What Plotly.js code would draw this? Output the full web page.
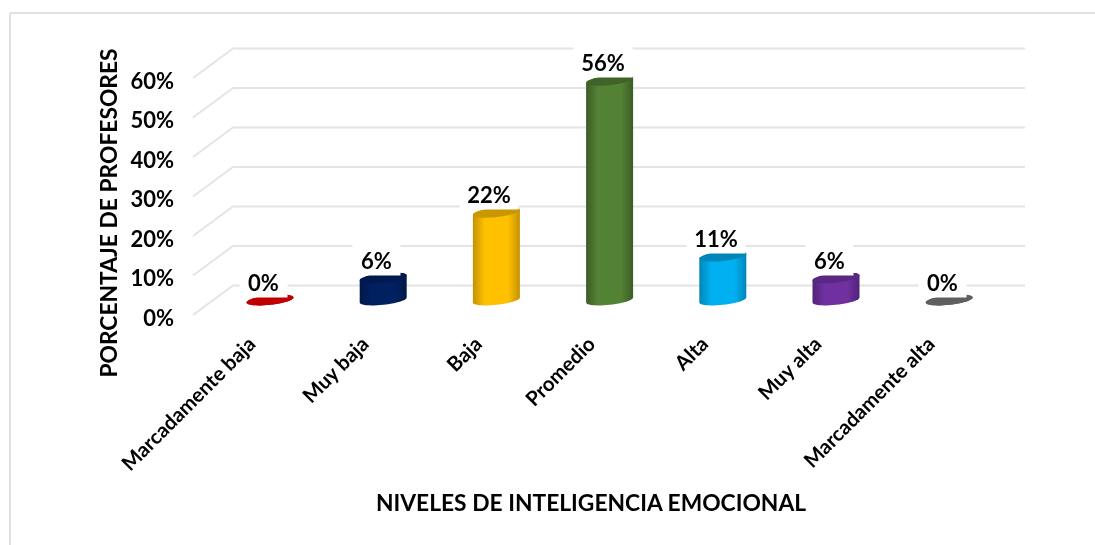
<!DOCTYPE html>
<html><head><meta charset="utf-8">
<script src="https://cdn.plot.ly/plotly-3.0.1.min.js"></script>
<style>html,body{margin:0;padding:0;background:#fff;overflow:hidden}#c{width:1095px;height:545px;filter:blur(0.35px)}</style>
</head><body><div id="c"></div>
<script>
const categories = ["Marcadamente baja","Muy baja","Baja","Promedio","Alta","Muy alta","Marcadamente alta"];
const values = [0,5.6,22.2,55.6,11.1,5.6,0];
const gridValues = [0,10,20,30,40,50,60];
const gridLabels = ["0%","10%","20%","30%","40%","50%","60%"];
const mainColors = ["#c00000","#002060","#ffc000","#548235","#00b0f0","#7030a0","#595959"];
const edgeColors = ["#a00000","#001848","#c39200","#3b5c25","#0086b8","#51237a","#4a4a4a"];
const capColors  = ["#c00000","#001a4f","#c99800","#3f6329","#0086b8","#5a2782","#5f5f5f"];

// pixel frame
const W=1095,H=545,L=157,R=1025,T=40,B=386;
const pxX=113.2, pxY=3.95;
const xOf0=270, frontZero=315, barZero=300;
const xr=[(L-xOf0)/pxX,(R-xOf0)/pxX];
const y1r=[(frontZero-B)/pxY,(frontZero-T)/pxY];
const y2r=[(barZero-B)/pxY,(barZero-T)/pxY];
const backDX=40/pxX, backDY=29.5/pxY, frontX=(193-xOf0)/pxX;
const a=23.5/pxX, b=4.8/pxY, tilt=2.5/pxY;
const idx=categories.map((_,i)=>i);

function arc(cx,cy,t0,t1,n){
  const p=[];
  for(let k=0;k<=n;k++){
    const t=t0+(t1-t0)*k/n, c=Math.cos(t), s=Math.sin(t);
    p.push([cx+a*c, cy+tilt*c+b*s]);
  }
  return p;
}
function toPath(pts){
  return pts.map((q,k)=>(k?'L':'M')+q[0].toFixed(4)+','+q[1].toFixed(3)).join(' ')+' Z';
}
function ellipse(cx,cy){ return toPath(arc(cx,cy,0,2*Math.PI,48)); }
function body(cx,v){ return toPath(arc(cx,0,Math.PI,2*Math.PI,24).concat(arc(cx,v,0,Math.PI,24))); }

const gx=[],gy=[];
gridValues.forEach(v=>{
  gx.push(frontX,frontX+backDX,xr[1],null);
  gy.push(v,v+backDY,v+backDY,null);
});
const shapes=[];
idx.forEach(i=>shapes.push({type:'path',xref:'x',yref:'y2',path:body(i,values[i]),fillcolor:mainColors[i],line:{width:0},layer:'above'}));
idx.forEach(i=>shapes.push({type:'path',xref:'x',yref:'y2',path:ellipse(i,values[i]),fillcolor:capColors[i],line:{width:0},layer:'above'}));
shapes.push({type:'line',xref:'paper',yref:'paper',x0:(10-L)/(R-L),x1:(W-L)/(R-L),y0:(B-13)/(B-T),y1:(B-13)/(B-T),line:{color:'#e0e0e0',width:2}});
shapes.push({type:'line',xref:'paper',yref:'paper',x0:(10-L)/(R-L),x1:(10-L)/(R-L),y0:(B-13)/(B-T),y1:(B-H)/(B-T),line:{color:'#e0e0e0',width:2}});

const annotations=idx.map(i=>({
  xref:'x',yref:'y2',x:i,y:values[i],xanchor:'center',yanchor:'bottom',valign:'bottom',xshift:-7,yshift:2,
  text:'<b>'+Math.round(values[i])+'%</b>',showarrow:false,bgcolor:'#ffffff',
  width:values[i]>=10?56:45,height:33,borderpad:1,
  font:{family:'Lato',size:22,color:'#000'}
}));

const data=[
 {type:'scatter',mode:'lines',x:gx,y:gy,xaxis:'x',yaxis:'y',line:{color:'#e4e4e4',width:2},hoverinfo:'skip',showlegend:false},
 {type:'bar',x:idx,y:values,xaxis:'x',yaxis:'y2',width:2*a-4/pxX,marker:{color:mainColors,cornerradius:3,line:{width:0}},hoverinfo:'skip',showlegend:false}
];
const layout={
 width:W,height:H,margin:{l:L,r:W-R,t:T,b:H-B,pad:0},paper_bgcolor:'#fff',plot_bgcolor:'rgba(0,0,0,0)',showlegend:false,
 xaxis:{range:xr,anchor:'free',position:(B-327)/(B-T),tickmode:'array',tickvals:idx.map(i=>i-0.18),ticktext:categories,tickangle:-45,
   showgrid:false,zeroline:false,showline:false,ticks:'',tickfont:{family:'Lato',size:20.4,color:'#000',weight:700},
   title:{text:'<b>NIVELES DE INTELIGENCIA EMOCIONAL</b>',font:{family:'Lato',size:22.8,color:'#000'},standoff:21},automargin:false},
 yaxis:{range:y1r,anchor:'free',position:(174-L)/(R-L),tickmode:'array',tickvals:gridValues,ticktext:gridLabels,ticklabelshift:3,
   showgrid:false,zeroline:false,showline:false,ticks:'',tickfont:{family:'Lato',size:22,color:'#000',weight:700},
   title:{text:'<b>PORCENTAJE DE PROFESORES</b>',font:{family:'Lato',size:22.8,color:'#000'},standoff:5},automargin:false},
 yaxis2:{range:y2r,overlaying:'y',visible:false,anchor:'x'},
 shapes,annotations,bargap:0
};
Plotly.newPlot('c',data,layout,{displayModeBar:false,staticPlot:true}).then(()=>{
  const svg=document.querySelector('#c .main-svg');
  const NS='http://www.w3.org/2000/svg';
  const defs=document.createElementNS(NS,'defs');
  idx.forEach(i=>{
    const g=document.createElementNS(NS,'linearGradient');
    g.setAttribute('id','cyl'+i);
    [[0,edgeColors[i]],[.25,mainColors[i]],[.75,mainColors[i]],[1,edgeColors[i]]].forEach(s=>{
      const st=document.createElementNS(NS,'stop');
      st.setAttribute('offset',s[0]);st.setAttribute('stop-color',s[1]);g.appendChild(st);
    });
    defs.appendChild(g);
  });
  svg.appendChild(defs);
  document.querySelectorAll('#c .barlayer .point path').forEach((p,i)=>{p.style.fill='url(#cyl'+i+')';});
  const sh=document.querySelectorAll('#c .shapelayer path');
  idx.forEach(i=>{ if(values[i]>0 && sh[i]) sh[i].style.fill='url(#cyl'+i+')'; });
});
</script></body></html>
